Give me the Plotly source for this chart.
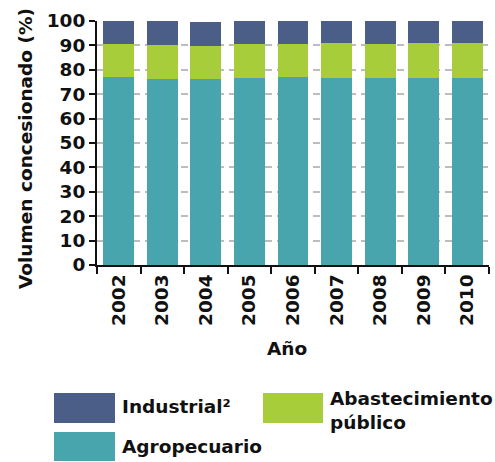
import plotly.graph_objects as go

# Años y porcentaje del volumen concesionado por uso
anios = ["2002", "2003", "2004", "2005", "2006", "2007", "2008", "2009", "2010"]
agropecuario = [76.9, 76.1, 76.1, 76.6, 76.9, 76.5, 76.5, 76.5, 76.5]
abastecimiento = [13.5, 13.9, 13.5, 13.8, 13.5, 14.3, 13.9, 14.3, 14.3]
industrial = [9.6, 10.0, 9.9, 9.5, 9.5, 9.2, 9.5, 9.2, 9.2]

nombres = ["Agropecuario", "Abastecimiento<br>público", "Industrial²"]
colores = ["#48A5AD", "#A8CD3A", "#4A5E88"]
y_ticks = list(range(0, 101, 10))

FONT = dict(family="DejaVu Sans", size=18.5, color="#111111", weight="bold")

W, H = 495, 462
ML, MR, MT, MB = 97, 6, 21, 197
PW, PH = W - ML - MR, H - MT - MB


def px(x):
    return (x - ML) / PW


def py(y):
    return (H - MB - y) / PH


fig = go.Figure()
for vals, name, col in zip([agropecuario, abastecimiento, industrial], nombres, colores):
    fig.add_trace(go.Bar(x=anios, y=vals, name=name, marker=dict(color=col, line=dict(width=0)),
                         showlegend=False))

fig.update_layout(
    barmode="stack",
    bargap=0.29,
    width=W, height=H,
    margin=dict(l=ML, r=MR, t=MT, b=MB),
    paper_bgcolor="white",
    plot_bgcolor="white",
    font=FONT,
)

fig.update_xaxes(
    range=[-0.5, 8.5],
    tickangle=-90,
    tickson="boundaries",
    ticks="outside", ticklen=7, tickwidth=2, tickcolor="#111111",
    showline=True, linecolor="#111111", linewidth=2,
    showgrid=False, zeroline=False,
    tickfont=FONT,
)
fig.update_yaxes(
    range=[0, 100],
    tickvals=y_ticks,
    ticks="outside", ticklen=6, tickwidth=2, tickcolor="#111111",
    showline=True, linecolor="#111111", linewidth=2,
    showgrid=True, gridcolor="#BDBDBD", gridwidth=2, griddash="7px,5px",
    zeroline=False,
    tickfont=FONT,
)

annotations = [
    dict(text="Volumen concesionado (%)", textangle=-90, x=px(25), y=py(149),
         xref="paper", yref="paper", showarrow=False, xanchor="center", yanchor="middle",
         font=FONT),
    dict(text="Año", x=px(287), y=py(348), xref="paper", yref="paper", showarrow=False,
         xanchor="center", yanchor="middle", font=FONT),
]

# Leyenda con muestras de color grandes
legend_items = [
    (industrial, nombres[2], colores[2], (54, 115, 393, 423), (120, 407)),
    (agropecuario, nombres[0], colores[0], (54, 115, 432, 461), (120, 446)),
    (abastecimiento, nombres[1], colores[1], (263, 323, 393, 423), (328, 410)),
]
shapes = []
for _, name, col, (x0, x1, y0, y1), (tx, ty) in legend_items:
    shapes.append(dict(type="rect", xref="paper", yref="paper",
                       x0=px(x0), x1=px(x1), y0=py(y1), y1=py(y0),
                       fillcolor=col, line=dict(width=0)))
    annotations.append(dict(text=name, x=px(tx), y=py(ty), xref="paper", yref="paper",
                            showarrow=False, xanchor="left", yanchor="middle", align="left",
                            font=FONT))

fig.update_layout(annotations=annotations, shapes=shapes)

fig.write_html("out.html")
